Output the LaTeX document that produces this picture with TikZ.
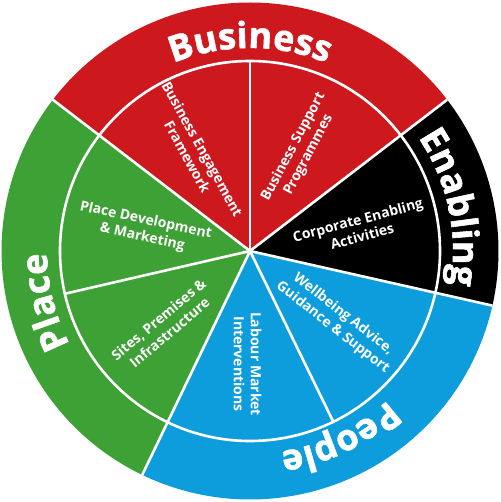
\documentclass[tikz,border=0pt]{standalone}
\usepackage{fontspec}
\setmainfont{Open Sans}
\newfontfamily\ringfont{Open Sans}[BoldFeatures={FakeBold=1.6}]
\usetikzlibrary{decorations.text}
\definecolor{wred}{RGB}{205,24,30}
\definecolor{wgreen}{RGB}{61,161,53}
\definecolor{wblue}{RGB}{14,157,220}
\definecolor{wblack}{RGB}{0,0,0}
\begin{document}
\begin{tikzpicture}[
  wline/.style={draw=white, line width=2.6pt},
  inlabel/.style={text=white, font=\bfseries\fontsize{14}{17}\selectfont, align=center, inner sep=0pt},
  ringtext/.style={decorate, decoration={text along path, text align=center,
     text={|\color{white}\ringfont\bfseries\fontsize{36}{40}\selectfont|#1}}}
]
\useasboundingbox (-250pt,-251pt) rectangle (250pt,251pt);
\def\R{248.5pt}
\def\r{190pt}
% outer sectors
\fill[wred]   (0,0) -- (37.5:\R) arc[start angle=37.5, end angle=142.5, radius=\R] -- cycle;
\fill[wgreen] (0,0) -- (142.5:\R) arc[start angle=142.5, end angle=244.3, radius=\R] -- cycle;
\fill[wblue]  (0,0) -- (244.3:\R) arc[start angle=244.3, end angle=347.3, radius=\R] -- cycle;
\fill[wblack] (0,0) -- (347.3:\R) arc[start angle=347.3, end angle=397.5, radius=\R] -- cycle;
% white dividers
\coordinate (c) at (0,0);
\draw[wline] (c) circle[radius=\r];
\foreach \a in {37.5,142.5,244.3,347.3} \draw[wline] (c) -- (\a:\R);
\foreach \a in {90,193,296} \draw[wline] (c) -- (\a:\r);
% ring labels
\path[ringtext={Business}] (150:203pt) arc[start angle=150, end angle=30, radius=203pt];
\path[ringtext={Enabling}] (72.25:203pt) arc[start angle=72.25, end angle=-47.75, radius=203pt];
\path[ringtext={Place}] (254:203pt) arc[start angle=254, end angle=134, radius=203pt];
\path[ringtext={People}] (-4.3:203pt) arc[start angle=-4.3, end angle=-124.3, radius=203pt];
% inner labels
\node[inlabel, rotate=-61] (be) at (-55pt,98pt) {Business Engagement\\Framework};
\node[inlabel, rotate=62] (bs) at (51pt,100pt) {Business Support\\Programmes};
\node[inlabel, rotate=15] (ce) at (110pt,23pt) {Corporate Enabling\\Activities};
\node[inlabel, rotate=-38] (wb) at (88pt,-70pt) {Wellbeing Advice,\\Guidance \& Support};
\node[inlabel, rotate=-90] (lm) at (-2.5pt,-113pt) {Labour Market\\Interventions};
\node[inlabel, rotate=40] (sp) at (-86pt,-75pt) {Sites, Premises \&\\Infrastructure};
\node[inlabel, rotate=-12] (pd) at (-106pt,22pt) {Place Development\\\& Marketing};
\end{tikzpicture}
\end{document}
